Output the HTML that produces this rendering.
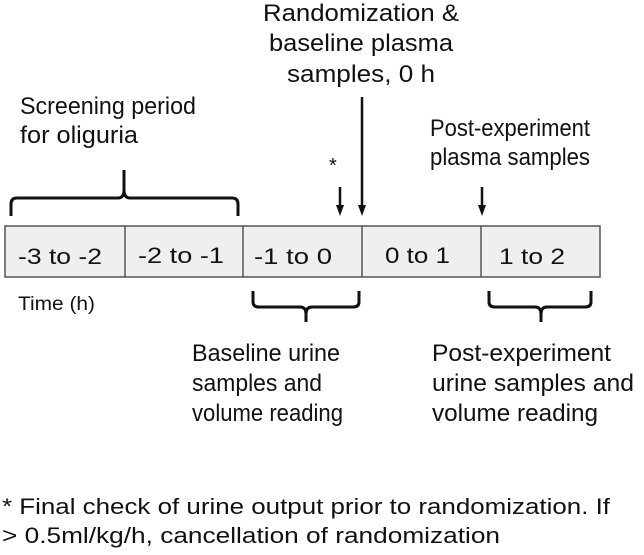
<!DOCTYPE html>
<html><head><style>html,body{margin:0;padding:0;background:#fff}svg{display:block}</style></head>
<body>
<svg width="644" height="555" viewBox="0 0 644 555" xmlns="http://www.w3.org/2000/svg" font-family="Liberation Sans, Arial, sans-serif" fill="#111">
<g font-size="24" text-anchor="middle">
<text x="361" y="21" textLength="196" lengthAdjust="spacingAndGlyphs">Randomization &amp;</text>
<text x="361" y="51" textLength="184" lengthAdjust="spacingAndGlyphs">baseline plasma</text>
<text x="361" y="82" textLength="148" lengthAdjust="spacingAndGlyphs">samples, 0 h</text>
</g>
<g font-size="24">
<text x="20" y="114" textLength="176" lengthAdjust="spacingAndGlyphs">Screening period</text>
<text x="20" y="143" textLength="118" lengthAdjust="spacingAndGlyphs">for oliguria</text>
<text x="430" y="136" textLength="160" lengthAdjust="spacingAndGlyphs">Post-experiment</text>
<text x="430" y="165" textLength="160" lengthAdjust="spacingAndGlyphs">plasma samples</text>
<text x="329" y="172" font-size="20">*</text>
</g>
<path d="M11,216 L11,204 Q11,198 17,198 L118,198 Q124,198 124,190 L124,170 M124,190 Q124,198 130,198 L232,198 Q238,198 238,204 L238,216" fill="none" stroke="#111" stroke-width="3"/>
<g stroke="#111" stroke-width="2.5">
<line x1="340" y1="187" x2="340" y2="208"/>
<line x1="362" y1="97" x2="362" y2="208"/>
<line x1="482" y1="187" x2="482" y2="208"/>
</g>
<g fill="#111">
<polygon points="336,205 344,205 340,216"/>
<polygon points="358,205 366,205 362,216"/>
<polygon points="478,205 486,205 482,216"/>
</g>
<rect x="5" y="226" width="595" height="51" fill="#efefef" stroke="#555" stroke-width="1.5"/>
<g stroke="#555" stroke-width="1.5">
<line x1="125" y1="226" x2="125" y2="277"/><line x1="243" y1="226" x2="243" y2="277"/><line x1="362" y1="226" x2="362" y2="277"/><line x1="481" y1="226" x2="481" y2="277"/>
</g>
<g font-size="22">
<text x="18" y="264" textLength="84" lengthAdjust="spacingAndGlyphs">-3 to -2</text>
<text x="138" y="263" textLength="86" lengthAdjust="spacingAndGlyphs">-2 to -1</text>
<text x="254" y="264" textLength="78" lengthAdjust="spacingAndGlyphs">-1 to 0</text>
<text x="385" y="263" textLength="65" lengthAdjust="spacingAndGlyphs">0 to 1</text>
<text x="499" y="264" textLength="66" lengthAdjust="spacingAndGlyphs">1 to 2</text>
</g>
<text x="18" y="310" font-size="19" textLength="77" lengthAdjust="spacingAndGlyphs">Time (h)</text>
<path d="M253,291 L253,302 Q253,307 259,307 L300,307 Q306,307 306,314 L306,322 M306,314 Q306,307 312,307 L353,307 Q359,307 359,302 L359,291" fill="none" stroke="#111" stroke-width="3"/>
<path d="M489,291 L489,302 Q489,307 495,307 L535,307 Q541,307 541,314 L541,322 M541,314 Q541,307 547,307 L585,307 Q591,307 591,302 L591,291" fill="none" stroke="#111" stroke-width="3"/>
<g font-size="24">
<text x="192" y="361" textLength="148" lengthAdjust="spacingAndGlyphs">Baseline urine</text>
<text x="192" y="391" textLength="130" lengthAdjust="spacingAndGlyphs">samples and</text>
<text x="192" y="421" textLength="151" lengthAdjust="spacingAndGlyphs">volume reading</text>
<text x="432" y="361" textLength="179" lengthAdjust="spacingAndGlyphs">Post-experiment</text>
<text x="432" y="391" textLength="202" lengthAdjust="spacingAndGlyphs">urine samples and</text>
<text x="432" y="421" textLength="166" lengthAdjust="spacingAndGlyphs">volume reading</text>
</g>
<g font-size="22">
<text x="2" y="514" textLength="608" lengthAdjust="spacingAndGlyphs">* Final check of urine output prior to randomization. If</text>
<text x="2" y="543" textLength="498" lengthAdjust="spacingAndGlyphs">&gt; 0.5ml/kg/h, cancellation of randomization</text>
</g>
</svg>
</body></html>
